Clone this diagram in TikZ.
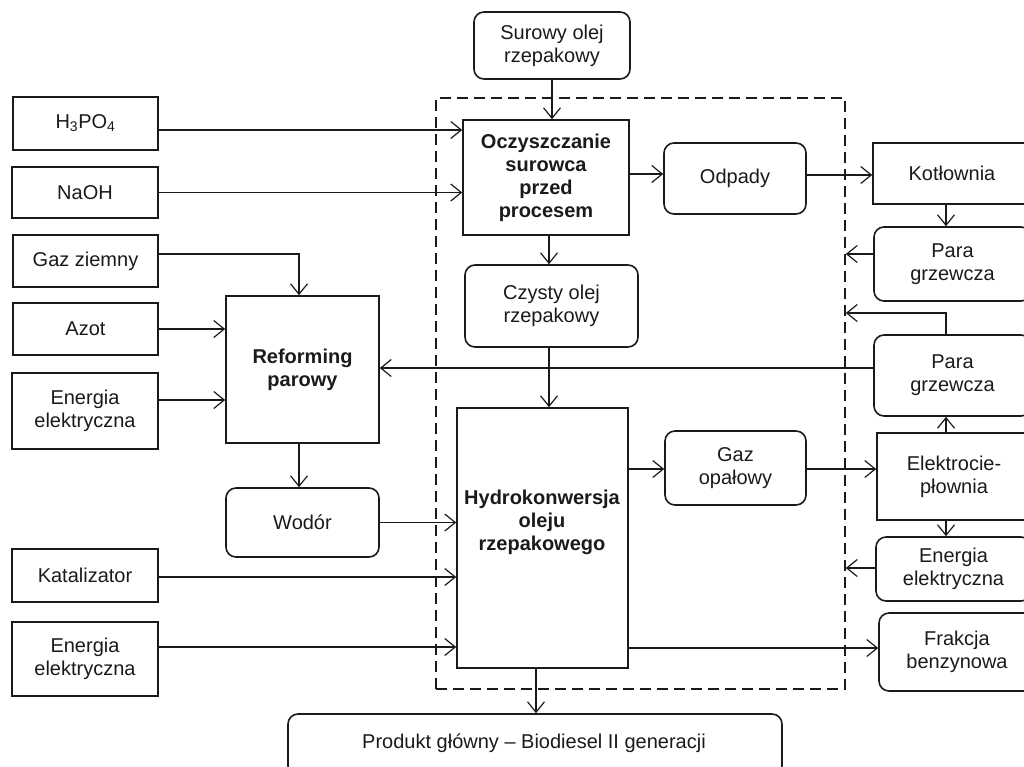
\documentclass[tikz,border=0pt]{standalone}
\usepackage{fontspec}
\setmainfont{Liberation Sans}
\usetikzlibrary{arrows.meta}
\definecolor{ink}{HTML}{1A1A1A}
\tikzset{
  base/.style={draw=ink, line width=1.6pt, inner sep=0pt, align=center, text=ink,
    font=\fontsize{20}{23}\selectfont},
  box/.style={base},
  rbox/.style={base, rounded corners=10pt},
  bbox/.style={base, font=\fontsize{20}{23}\selectfont\bfseries},
  arr/.style={draw=ink, line width=1.2pt, -{Straight Barb[length=10.5pt,width=17pt,line width=1.2pt]}},
  dashbox/.style={draw=ink, line width=1.6pt, dash pattern=on 11pt off 6pt, inner sep=0pt}
}
\begin{document}
\begin{tikzpicture}[x=1pt,y=-1pt]
\useasboundingbox (0,0) rectangle (1024,766);
\node[dashbox, minimum width=409pt, minimum height=591pt] (dash) at (640.5,393.5) {};

\node[rbox, minimum width=156pt, minimum height=67pt] (sur) at (552,45.5) {Surowy olej\\rzepakowy};
\node[bbox, minimum width=166pt, minimum height=115pt] (ocz) at (546,177.5) {Oczyszczanie\\surowca\\przed\\procesem};
\node[rbox, minimum width=142pt, minimum height=71pt] (odp) at (735,178.5) {Odpady};
\node[box, minimum width=158pt, minimum height=61pt] (kot) at (952,173.5) {Kotłownia};
\node[rbox, minimum width=157pt, minimum height=74pt] (para1) at (952.5,264) {Para\\grzewcza};
\node[rbox, minimum width=157pt, minimum height=81pt] (para2) at (952.5,375.5) {Para\\grzewcza};
\node[box, minimum width=154pt, minimum height=87pt] (elek) at (954,476.5) {Elektrocie-\\płownia};
\node[rbox, minimum width=155pt, minimum height=64pt] (eneR) at (953.5,569) {Energia\\elektryczna};
\node[rbox, minimum width=156pt, minimum height=78pt] (frak) at (957,652) {Frakcja\\benzynowa};

\node[box, minimum width=145pt, minimum height=53pt] (h3) at (85.5,123.5) {H\textsubscript{3}PO\textsubscript{4}};
\node[box, minimum width=146pt, minimum height=51pt] (naoh) at (85,192.5) {NaOH};
\node[box, minimum width=145pt, minimum height=52pt] (gz) at (85.5,261) {Gaz ziemny};
\node[box, minimum width=145pt, minimum height=52pt] (azot) at (85.5,329) {Azot};
\node[box, minimum width=146pt, minimum height=76pt] (enL1) at (85,411) {Energia\\elektryczna};
\node[box, minimum width=146pt, minimum height=53pt] (kat) at (85,575.5) {Katalizator};
\node[box, minimum width=146pt, minimum height=74pt] (enL2) at (85,659) {Energia\\elektryczna};

\node[bbox, minimum width=153pt, minimum height=147pt] (ref) at (302.5,369.5) {Reforming\\parowy};
\node[rbox, minimum width=153pt, minimum height=69pt] (wod) at (302.5,522.5) {Wodór};
\node[rbox, minimum width=173pt, minimum height=82pt] (czy) at (551.5,306) {Czysty olej\\rzepakowy};
\node[box, minimum width=171pt, minimum height=260pt] (hydro) at (542.5,538) {};
\node[align=center, inner sep=0pt, text=ink, font=\fontsize{20}{23}\selectfont\bfseries] (hydrot) at (542,522) {Hydrokonwersja\\oleju\\rzepakowego};
\node[rbox, minimum width=141pt, minimum height=74pt] (gaz) at (735.5,468) {Gaz\\opałowy};
\node[rbox, minimum width=494pt, minimum height=62pt] (prod) at (535,745) {};
\node[inner sep=0pt, text=ink, font=\fontsize{20}{23}\selectfont] (prodt) at (534,743) {Produkt główny – Biodiesel II generacji};

\coordinate (xR) at (946,0);
\coordinate (xG) at (299,0);
\coordinate (xC) at (549,0);
\coordinate (xP) at (536,0);
\coordinate (yret) at (0,313);

\draw[arr] (sur.south) -- (sur.south |- ocz.north);
\draw[arr] ([yshift=-6.5pt]h3.east) -- ([yshift=-6.5pt]h3.east -| ocz.west);
\draw[arr] (naoh.east) -- (naoh.east -| ocz.west);
\draw[arr] ([yshift=3.5pt]ocz.east) -- ([yshift=3.5pt]ocz.east -| odp.west);
\draw[arr] ([yshift=3.5pt]odp.east) -- ([yshift=3.5pt]odp.east -| kot.west);
\draw[arr] (kot.south -| xR) -- (para1.north -| xR);
\draw[arr] ([yshift=10pt]para1.west) -- ([yshift=10pt]para1.west -| dash.east);
\draw[arr] (para2.north -| xR) -- (xR |- yret) -- (yret -| dash.east);
\draw[arr] ([yshift=7.5pt]para2.west) -- ([yshift=7.5pt]para2.west -| ref.east);
\draw[arr] (elek.north -| xR) -- (para2.south -| xR);
\draw[arr] ([yshift=-1pt]gaz.east) -- ([yshift=-1pt]gaz.east -| elek.west);
\draw[arr] ([yshift=-1pt]gaz.west -| hydro.east) -- ([yshift=-1pt]gaz.west);
\draw[arr] (elek.south -| xR) -- (eneR.north -| xR);
\draw[arr] ([yshift=1pt]eneR.west) -- ([yshift=1pt]eneR.west -| dash.east);
\draw[arr] ([yshift=4pt]frak.west -| hydro.east) -- ([yshift=4pt]frak.west);
\draw[arr] ([yshift=7pt]gz.east) -| (ref.north -| xG);
\draw[arr] (azot.east) -- (azot.east -| ref.west);
\draw[arr] ([yshift=11pt]enL1.east) -- ([yshift=11pt]enL1.east -| ref.west);
\draw[arr] (ref.south -| xG) -- (wod.north -| xG);
\draw[arr] (wod.east) -- (wod.east -| hydro.west);
\draw[arr] ([yshift=-1.5pt]kat.east) -- ([yshift=-1.5pt]kat.east -| hydro.west);
\draw[arr] ([yshift=12pt]enL2.east) -- ([yshift=12pt]enL2.east -| hydro.west);
\draw[arr] (ocz.south -| xC) -- (czy.north -| xC);
\draw[arr] (czy.south -| xC) -- (hydro.north -| xC);
\draw[arr] (hydro.south -| xP) -- (prod.north -| xP);
\end{tikzpicture}
\end{document}
